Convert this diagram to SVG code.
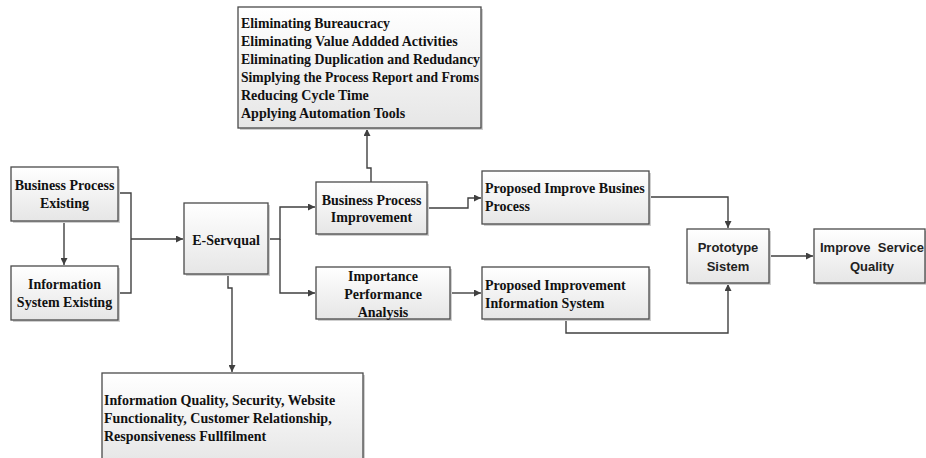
<svg xmlns="http://www.w3.org/2000/svg" width="926" height="458" viewBox="0 0 926 458">
<defs>
<linearGradient id="g" x1="0" y1="0" x2="0" y2="1">
<stop offset="0" stop-color="#ffffff"/>
<stop offset="1" stop-color="#e6e6e6"/>
</linearGradient>
<marker id="a" viewBox="0 0 10 10" refX="10" refY="5" markerWidth="7" markerHeight="7" markerUnits="userSpaceOnUse" orient="auto">
<path d="M0,0 L10,5 L0,10 z" fill="#404040"/>
</marker>
</defs>
<style>
.sh{fill:#cfcfcf}
.bx{fill:url(#g);stroke:#4a4a4a;stroke-width:1.3}
.t{font-family:"Liberation Serif","Times New Roman",serif;font-weight:bold;font-size:14px;fill:#111}
.s{font-family:"Liberation Sans",Arial,sans-serif;font-weight:bold;font-size:13px;fill:#222}
.c{text-anchor:middle}
.ln{fill:none;stroke:#404040;stroke-width:1.4}
</style>
<rect width="926" height="458" fill="#fff"/>
<g id="connectors">
<path class="ln" d="M371,182 V168 H367 V129" marker-end="url(#a)"/>
<path class="ln" d="M64,221 V265" marker-end="url(#a)"/>
<path class="ln" d="M118,193 H131 V293 H118"/>
<path class="ln" d="M131,239 H183" marker-end="url(#a)"/>
<path class="ln" d="M268,239 H280 V207 H315" marker-end="url(#a)"/>
<path class="ln" d="M280,239 V293 H315" marker-end="url(#a)"/>
<path class="ln" d="M228,274 V288 H232 V372" marker-end="url(#a)"/>
<path class="ln" d="M427,208 H468 V198 H481" marker-end="url(#a)"/>
<path class="ln" d="M450,293 H481" marker-end="url(#a)"/>
<path class="ln" d="M649,197 H728 V228" marker-end="url(#a)"/>
<path class="ln" d="M566,319 V333 H728 V284" marker-end="url(#a)"/>
<path class="ln" d="M769,256 H813" marker-end="url(#a)"/>
</g>
<g id="top-box">
<rect class="sh" x="240" y="9" width="243" height="121"/>
<rect class="bx" x="238" y="7" width="243" height="121"/>
<text class="t" x="241" y="27.5" textLength="149" lengthAdjust="spacingAndGlyphs">Eliminating Bureaucracy</text>
<text class="t" x="241" y="45.5">Eliminating Value Addded Activities</text>
<text class="t" x="241" y="63.5" textLength="239" lengthAdjust="spacingAndGlyphs">Eliminating Duplication and Redudancy</text>
<text class="t" x="241" y="81.5" textLength="238" lengthAdjust="spacingAndGlyphs">Simplying the Process Report and Froms</text>
<text class="t" x="241" y="99.5">Reducing Cycle Time</text>
<text class="t" x="241" y="117.5">Applying Automation Tools</text>
</g>
<g id="bpe">
<rect class="sh" x="13" y="169" width="107" height="54"/>
<rect class="bx" x="11" y="167" width="107" height="54"/>
<text class="t c" x="64.5" y="190">Business Process</text>
<text class="t c" x="64.5" y="208">Existing</text>
</g>
<g id="ise">
<rect class="sh" x="13" y="268" width="107" height="54"/>
<rect class="bx" x="11" y="266" width="107" height="54"/>
<text class="t c" x="64.5" y="289">Information</text>
<text class="t c" x="64.5" y="307">System Existing</text>
</g>
<g id="eservqual">
<rect class="sh" x="186" y="205" width="84" height="71"/>
<rect class="bx" x="184" y="203" width="84" height="71"/>
<text class="t c" x="226" y="245">E-Servqual</text>
</g>
<g id="bpi">
<rect class="sh" x="318" y="184" width="111" height="52"/>
<rect class="bx" x="316" y="182" width="111" height="52"/>
<text class="t c" x="371.5" y="205">Business Process</text>
<text class="t c" x="371.5" y="222">Improvement</text>
</g>
<g id="ipa">
<rect class="sh" x="318" y="269" width="134" height="52"/>
<rect class="bx" x="316" y="267" width="134" height="52"/>
<text class="t c" x="383" y="281">Importance</text>
<text class="t c" x="383" y="299">Performance</text>
<text class="t c" x="383" y="317">Analysis</text>
</g>
<g id="pibp">
<rect class="sh" x="484" y="173" width="167" height="53"/>
<rect class="bx" x="482" y="171" width="167" height="53"/>
<text class="t" x="485" y="193">Proposed Improve Busines</text>
<text class="t" x="485" y="211">Process</text>
</g>
<g id="piis">
<rect class="sh" x="484" y="269" width="167" height="52"/>
<rect class="bx" x="482" y="267" width="167" height="52"/>
<text class="t" x="485" y="290">Proposed Improvement</text>
<text class="t" x="485" y="308">Information System</text>
</g>
<g id="prototype">
<rect class="sh" x="689" y="231" width="82" height="54"/>
<rect class="bx" x="687" y="229" width="82" height="54"/>
<text class="s c" x="728" y="252">Prototype</text>
<text class="s c" x="728" y="271">Sistem</text>
</g>
<g id="isq">
<rect class="sh" x="816" y="231" width="112" height="54"/>
<rect class="bx" x="814" y="229" width="111" height="54"/>
<text class="s c" x="872" y="252" xml:space="preserve">Improve  Service</text>
<text class="s c" x="872" y="271">Quality</text>
</g>
<g id="bottom-box">
<rect class="sh" x="104" y="375" width="261" height="90"/>
<rect class="bx" x="102" y="373" width="261" height="90"/>
<text class="t" x="104" y="405">Information Quality, Security, Website</text>
<text class="t" x="104" y="423">Functionality, Customer Relationship,</text>
<text class="t" x="104" y="441">Responsiveness Fullfilment</text>
</g>
</svg>
